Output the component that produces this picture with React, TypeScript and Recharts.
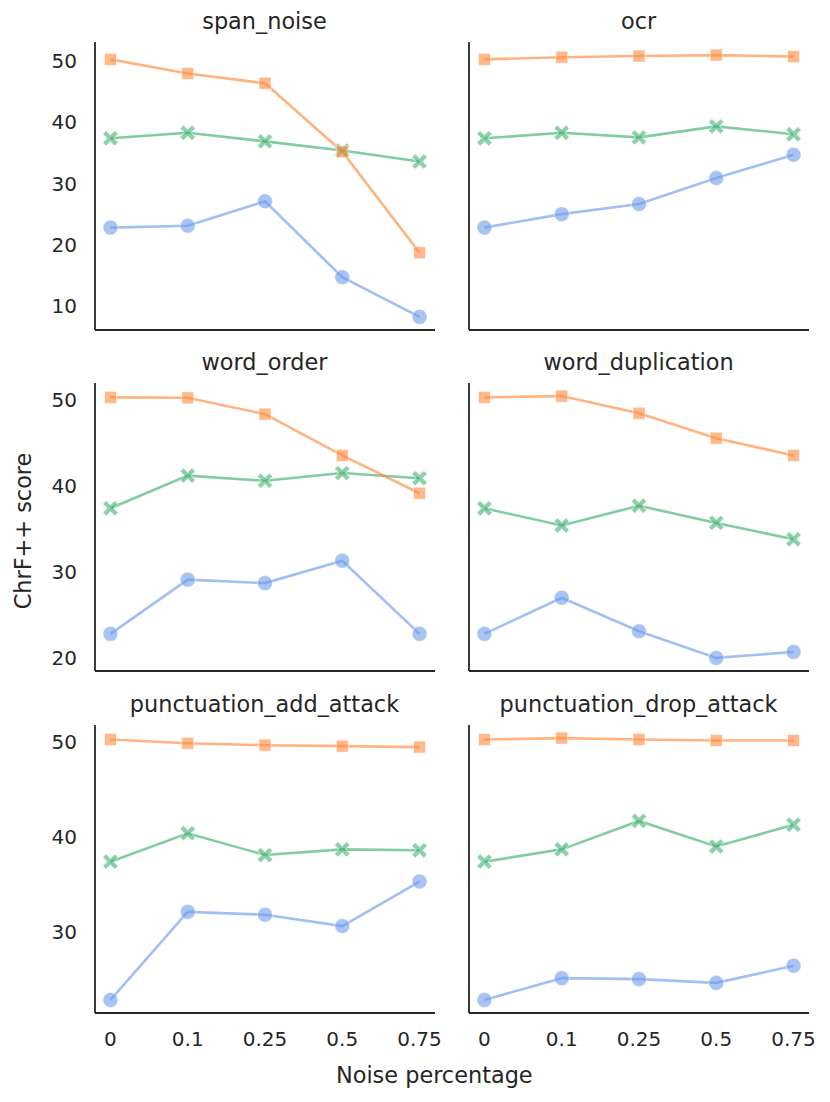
import React from 'react';
import { LineChart, Line, XAxis, YAxis } from 'recharts';

// x categories (noise percentage)
const NOISE_LABELS = ['0', '0.1', '0.25', '0.5', '0.75'];

// span_noise
const SPAN_NOISE_BLUE = [22.8, 23.1, 27.1, 14.7, 8.2];
const SPAN_NOISE_ORANGE = [50.3, 48.0, 46.4, 35.2, 18.7];
const SPAN_NOISE_GREEN = [37.4, 38.3, 36.9, 35.4, 33.6];

// ocr
const OCR_BLUE = [22.8, 25.0, 26.65, 30.9, 34.7];
const OCR_ORANGE = [50.3, 50.65, 50.85, 51.0, 50.75];
const OCR_GREEN = [37.4, 38.3, 37.55, 39.35, 38.05];

// word_order
const WORD_ORDER_BLUE = [22.8, 29.1, 28.7, 31.3, 22.8];
const WORD_ORDER_ORANGE = [50.3, 50.25, 48.35, 43.55, 39.15];
const WORD_ORDER_GREEN = [37.4, 41.2, 40.6, 41.5, 40.9];

// word_duplication
const WORD_DUP_BLUE = [22.8, 27.0, 23.1, 20.0, 20.7];
const WORD_DUP_ORANGE = [50.3, 50.45, 48.45, 45.55, 43.55];
const WORD_DUP_GREEN = [37.4, 35.4, 37.7, 35.7, 33.8];

// punctuation_add_attack
const PUNCT_ADD_BLUE = [22.8, 32.1, 31.8, 30.6, 35.3];
const PUNCT_ADD_ORANGE = [50.3, 49.9, 49.7, 49.6, 49.5];
const PUNCT_ADD_GREEN = [37.4, 40.4, 38.1, 38.7, 38.6];

// punctuation_drop_attack
const PUNCT_DROP_BLUE = [22.8, 25.1, 25.0, 24.6, 26.4];
const PUNCT_DROP_ORANGE = [50.3, 50.45, 50.3, 50.2, 50.2];
const PUNCT_DROP_GREEN = [37.4, 38.7, 41.7, 39.0, 41.3];

// y ticks per row
const ROW_TICKS = [
  [10, 20, 30, 40, 50],
  [20, 30, 40, 50],
  [30, 40, 50],
];

type Panel = { title: string; blue: number[]; orange: number[]; green: number[] };

const ROWS: Panel[][] = [
  [
    { title: 'span_noise', blue: SPAN_NOISE_BLUE, orange: SPAN_NOISE_ORANGE, green: SPAN_NOISE_GREEN },
    { title: 'ocr', blue: OCR_BLUE, orange: OCR_ORANGE, green: OCR_GREEN },
  ],
  [
    { title: 'word_order', blue: WORD_ORDER_BLUE, orange: WORD_ORDER_ORANGE, green: WORD_ORDER_GREEN },
    { title: 'word_duplication', blue: WORD_DUP_BLUE, orange: WORD_DUP_ORANGE, green: WORD_DUP_GREEN },
  ],
  [
    { title: 'punctuation_add_attack', blue: PUNCT_ADD_BLUE, orange: PUNCT_ADD_ORANGE, green: PUNCT_ADD_GREEN },
    { title: 'punctuation_drop_attack', blue: PUNCT_DROP_BLUE, orange: PUNCT_DROP_ORANGE, green: PUNCT_DROP_GREEN },
  ],
];

const BLUE = '#6f9de9';
const ORANGE = '#ff8a3d';
const GREEN = '#3fb070';
const INK = '#262626';
const FONT = '"DejaVu Sans", sans-serif';
const TICK_SIZE = 20;
const LABEL_SIZE = 22.4;

const COL_LEFT = [94.5, 468.6];
const ROW_TOP = [41.5, 383, 724.5];
const PLOT_W = 340;
const PLOT_H = 288;
const Y_AXIS_W = 60;
const RIGHT_PAD = 24;

const CircleDot = (props: any) => {
  const { cx, cy, index } = props;
  if (cx == null || cy == null) return null;
  return (
    <circle key={`c-${index}`} cx={cx} cy={cy} r={7.5} fill={BLUE} fillOpacity={0.6}
      stroke="#fff" strokeOpacity={0.5} strokeWidth={1} />
  );
};

const SquareDot = (props: any) => {
  const { cx, cy, index } = props;
  if (cx == null || cy == null) return null;
  return (
    <rect key={`s-${index}`} x={cx - 6} y={cy - 6} width={12} height={12} fill={ORANGE} fillOpacity={0.6}
      stroke="#fff" strokeOpacity={0.5} strokeWidth={1} />
  );
};

const CrossDot = (props: any) => {
  const { cx, cy, index } = props;
  if (cx == null || cy == null) return null;
  const a = 8.5;
  const t = 2.4;
  const d = `M${-t},${-a}H${t}V${-t}H${a}V${t}H${t}V${a}H${-t}V${t}H${-a}V${-t}H${-t}Z`;
  return (
    <path key={`x-${index}`} d={d} transform={`translate(${cx},${cy}) rotate(45)`} fill={GREEN}
      fillOpacity={0.6} stroke="#fff" strokeOpacity={0.5} strokeWidth={1} />
  );
};

// matplotlib-style autoscale: 5% margin around the row's data
const rowDomain = (row: Panel[]): [number, number] => {
  const all = row.flatMap(p => [...p.blue, ...p.orange, ...p.green]);
  const lo = Math.min(...all);
  const hi = Math.max(...all);
  const pad = (hi - lo) * 0.05;
  return [lo - pad, hi + pad];
};

const PanelChart = ({ panel, rowIdx, colIdx }: { panel: Panel; rowIdx: number; colIdx: number }) => {
  const isBottom = rowIdx === ROWS.length - 1;
  const xAxisH = isBottom ? 45 : 4;
  const domain = rowDomain(ROWS[rowIdx]);
  const data = NOISE_LABELS.map((label, i) => ({
    idx: i,
    label,
    blue: panel.blue[i],
    orange: panel.orange[i],
    green: panel.green[i],
  }));

  return (
    <div style={{ position: 'absolute', left: COL_LEFT[colIdx] - Y_AXIS_W, top: ROW_TOP[rowIdx] }}>
      <LineChart width={Y_AXIS_W + PLOT_W + RIGHT_PAD} height={PLOT_H + xAxisH} data={data}
        margin={{ top: 0, right: RIGHT_PAD, bottom: 0, left: 0 }}>
        <XAxis dataKey="idx" type="number" domain={[-0.2, 4.2]} ticks={[0, 1, 2, 3, 4]} interval={0}
          tickFormatter={(i: number) => NOISE_LABELS[i]} height={xAxisH}
          tick={isBottom ? { fill: INK, fontSize: TICK_SIZE, fontFamily: FONT } : false}
          tickLine={false} tickSize={0} tickMargin={19}
          axisLine={{ stroke: INK, strokeWidth: 1.8 }} />
        <YAxis type="number" domain={domain} ticks={ROW_TICKS[rowIdx]} interval={0} width={Y_AXIS_W}
          tick={colIdx === 0 ? { fill: INK, fontSize: TICK_SIZE, fontFamily: FONT } : false}
          tickLine={false} tickSize={0} tickMargin={18}
          axisLine={{ stroke: INK, strokeWidth: 1.8 }} />
        <Line dataKey="blue" stroke={BLUE} strokeOpacity={0.65} strokeWidth={2.6} dot={CircleDot}
          activeDot={false} isAnimationActive={false} />
        <Line dataKey="green" stroke={GREEN} strokeOpacity={0.65} strokeWidth={2.6} dot={CrossDot}
          activeDot={false} isAnimationActive={false} />
        <Line dataKey="orange" stroke={ORANGE} strokeOpacity={0.65} strokeWidth={2.6} dot={SquareDot}
          activeDot={false} isAnimationActive={false} />
      </LineChart>
    </div>
  );
};

export default function App() {
  return (
    <div style={{ position: 'absolute', left: 0, top: 0, width: 830, height: 1102, background: '#fff', fontFamily: FONT }}>
      {ROWS.map((row, r) =>
        row.map((panel, c) => <PanelChart key={`${r}-${c}`} panel={panel} rowIdx={r} colIdx={c} />)
      )}
      <svg width={830} height={1102} style={{ position: 'absolute', left: 0, top: 0, pointerEvents: 'none' }}>
        {ROWS.map((row, r) =>
          row.map((panel, c) => (
            <text key={`t-${r}-${c}`} x={COL_LEFT[c] + PLOT_W / 2} y={ROW_TOP[r] - 13} textAnchor="middle"
              fontSize={LABEL_SIZE} fontFamily={FONT} fill={INK}>
              {panel.title}
            </text>
          ))
        )}
        <text x={434.3} y={1083} textAnchor="middle" fontSize={LABEL_SIZE} fontFamily={FONT} fill={INK}>
          Noise percentage
        </text>
        <text x={31} y={531} textAnchor="middle" fontSize={LABEL_SIZE} fontFamily={FONT} fill={INK}
          transform="rotate(-90 31 531)">
          ChrF++ score
        </text>
      </svg>
    </div>
  );
}
